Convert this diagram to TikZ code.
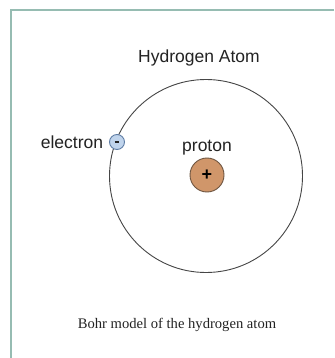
\documentclass[tikz,border=0pt]{standalone}
\usepackage{fontspec}
\setmainfont{Liberation Serif}
\newfontfamily\arialfont{Liberation Sans}
\definecolor{framec}{RGB}{150,188,178}
\definecolor{txtc}{RGB}{35,35,35}
\definecolor{orbitc}{RGB}{70,70,70}
\definecolor{protonfill}{RGB}{208,150,106}
\definecolor{protonline}{RGB}{110,85,65}
\definecolor{elecfill}{RGB}{192,212,236}
\definecolor{elecline}{RGB}{95,125,165}
\tikzset{
  lbl/.style={font=\arialfont\fontsize{17.5}{20}\selectfont, text=txtc, inner sep=0pt, anchor=base},
  caption/.style={font=\fontsize{14.6}{17}\selectfont, text=txtc, inner sep=0pt, anchor=base},
  framel/.style={draw=framec, line width=1.5pt},
}
\begin{document}
\begin{tikzpicture}[x=1pt,y=-1pt]
\useasboundingbox (0,0) rectangle (334,358);
\fill[white] (0,0) rectangle (334,358);
\coordinate (ftop) at (334,10);
\coordinate (fcorner) at (11,10);
\coordinate (fbot) at (11,358);
\draw[framel] (ftop) -- (fcorner) -- (fbot);
\node[circle, draw=orbitc, line width=0.9pt, minimum size=193pt, inner sep=0pt] (orbit) at (206,176) {};
\node[circle, draw=protonline, line width=0.9pt, fill=protonfill, minimum size=34pt, inner sep=0pt, font=\arialfont\fontsize{18}{20}\selectfont\bfseries] (proton) at (207,175) {+};
\node[circle, draw=elecline, line width=0.9pt, fill=elecfill, minimum size=15pt, inner sep=0pt] (electron) at (117,142) {};
\draw[line width=1.3pt, txtc] ([xshift=-2.3pt]electron.center) -- ([xshift=2.3pt]electron.center);
\node[lbl] (title) at (199,63) {Hydrogen Atom};
\node[lbl] (elabel) at (72,149) {electron};
\node[lbl] (plabel) at (207,151) {proton};
\node[caption] (cap) at (177,328) {Bohr model of the hydrogen atom};
\end{tikzpicture}
\end{document}
